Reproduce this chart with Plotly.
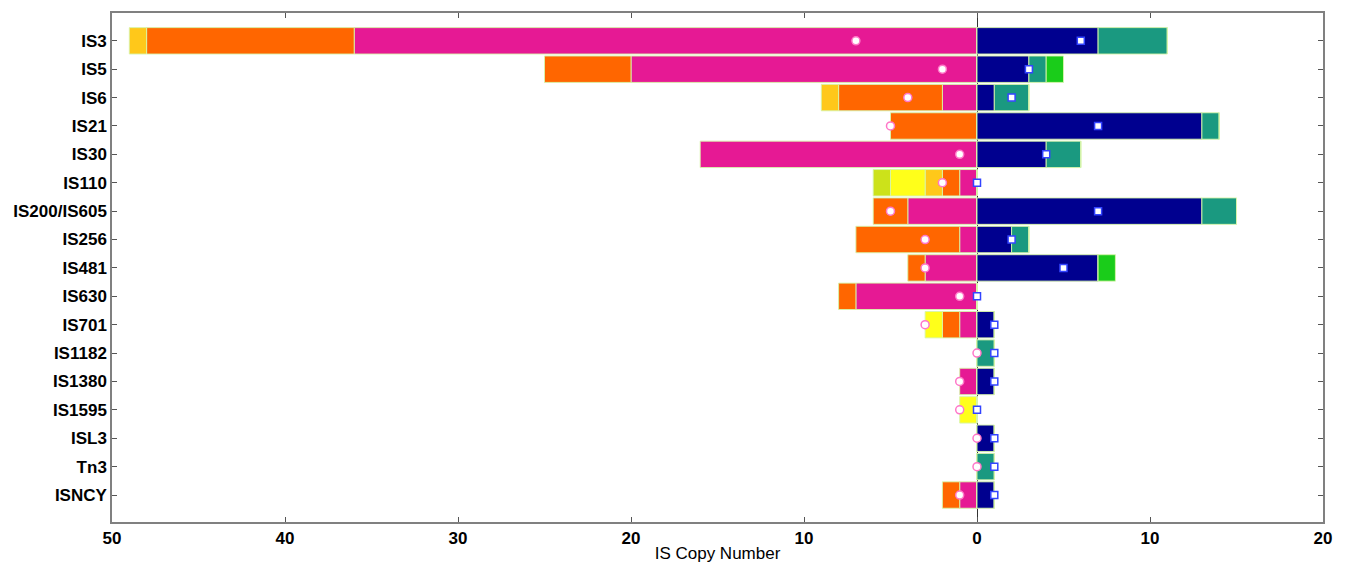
import plotly.graph_objects as go

categories = ["IS3", "IS5", "IS6", "IS21", "IS30", "IS110", "IS200/IS605", "IS256",
              "IS481", "IS630", "IS701", "IS1182", "IS1380", "IS1595", "ISL3", "Tn3", "ISNCY"]

# Left side (plotted as negative), stacked outward from 0
left_magenta = [36, 20, 2, 0, 16, 1, 4, 1, 3, 7, 1, 0, 1, 0, 0, 0, 1]
left_orange = [12, 5, 6, 5, 0, 1, 2, 6, 1, 1, 1, 0, 0, 0, 0, 0, 1]
left_gold = [1, 0, 1, 0, 0, 1, 0, 0, 0, 0, 0, 0, 0, 0, 0, 0, 0]
left_yellow = [0, 0, 0, 0, 0, 2, 0, 0, 0, 0, 1, 0, 0, 1, 0, 0, 0]
left_ygreen = [0, 0, 0, 0, 0, 1, 0, 0, 0, 0, 0, 0, 0, 0, 0, 0, 0]
left_marker = [7, 2, 4, 5, 1, 2, 5, 3, 3, 1, 3, 0, 1, 1, 0, 0, 1]

# Right side, stacked outward from 0
right_navy = [7, 3, 1, 13, 4, 0, 13, 2, 7, 0, 1, 0, 1, 0, 1, 0, 1]
right_teal = [4, 1, 2, 1, 2, 0, 2, 1, 0, 0, 0, 1, 0, 0, 0, 1, 0]
right_green = [0, 1, 0, 0, 0, 0, 0, 0, 1, 0, 0, 0, 0, 0, 0, 0, 0]
right_marker = [6, 3, 2, 7, 4, 0, 7, 2, 5, 0, 1, 1, 1, 0, 1, 1, 1]

x_tickvals = [-50, -40, -30, -20, -10, 0, 10, 20]
x_ticktext = ["50", "40", "30", "20", "10", "0", "10", "20"]

edge = dict(color="rgba(215,245,170,0.9)", width=1)

fig = go.Figure()

def add_bar(vals, color, sign):
    fig.add_trace(go.Bar(
        y=categories, x=[sign * v for v in vals], orientation="h",
        marker=dict(color=color, line=edge), width=0.93, showlegend=False,
        hoverinfo="skip"))

add_bar(left_magenta, "#E61994", -1)
add_bar(left_orange, "#FF6600", -1)
add_bar(left_gold, "#FFC81A", -1)
add_bar(left_yellow, "#FFFF1A", -1)
add_bar(left_ygreen, "#CCE21A", -1)
add_bar(right_navy, "#00008F", 1)
add_bar(right_teal, "#1A9980", 1)
add_bar(right_green, "#1ACC1A", 1)

fig.add_trace(go.Scatter(
    y=categories, x=[-v for v in left_marker], mode="markers",
    marker=dict(symbol="circle", size=8, color="white",
                line=dict(color="#FF77C8", width=1.5)),
    showlegend=False, hoverinfo="skip"))
fig.add_trace(go.Scatter(
    y=categories, x=right_marker, mode="markers",
    marker=dict(symbol="square", size=7, color="white",
                line=dict(color="#3344FF", width=1.5)),
    showlegend=False, hoverinfo="skip"))

fig.update_layout(
    barmode="relative",
    width=1346, height=567,
    margin=dict(l=104, r=31, t=3, b=53),
    paper_bgcolor="white", plot_bgcolor="white",
    font=dict(family="Liberation Sans, Arial, sans-serif", size=17, color="black"),
    xaxis=dict(
        range=[-50, 20], tickvals=x_tickvals, ticktext=x_ticktext,
        ticks="inside", ticklen=5, tickcolor="#555", mirror="ticks",
        showline=True, linecolor="#808080", linewidth=1.5,
        showgrid=False, zeroline=True, zerolinecolor="#333", zerolinewidth=1,
        title=dict(text="IS Copy Number", font=dict(size=17), standoff=0),
        tickfont=dict(size=17, weight="bold"), layer="above traces"),
    yaxis=dict(
        type="category", categoryorder="array", categoryarray=categories,
        range=[16.95, -0.98],
        ticks="inside", ticklen=5, tickcolor="#555", mirror="ticks",
        showline=True, linecolor="#808080", linewidth=1.5, showgrid=False,
        ticklabelstandoff=0,
        tickfont=dict(size=17, weight="bold")),
)

fig.write_html("out.html")
